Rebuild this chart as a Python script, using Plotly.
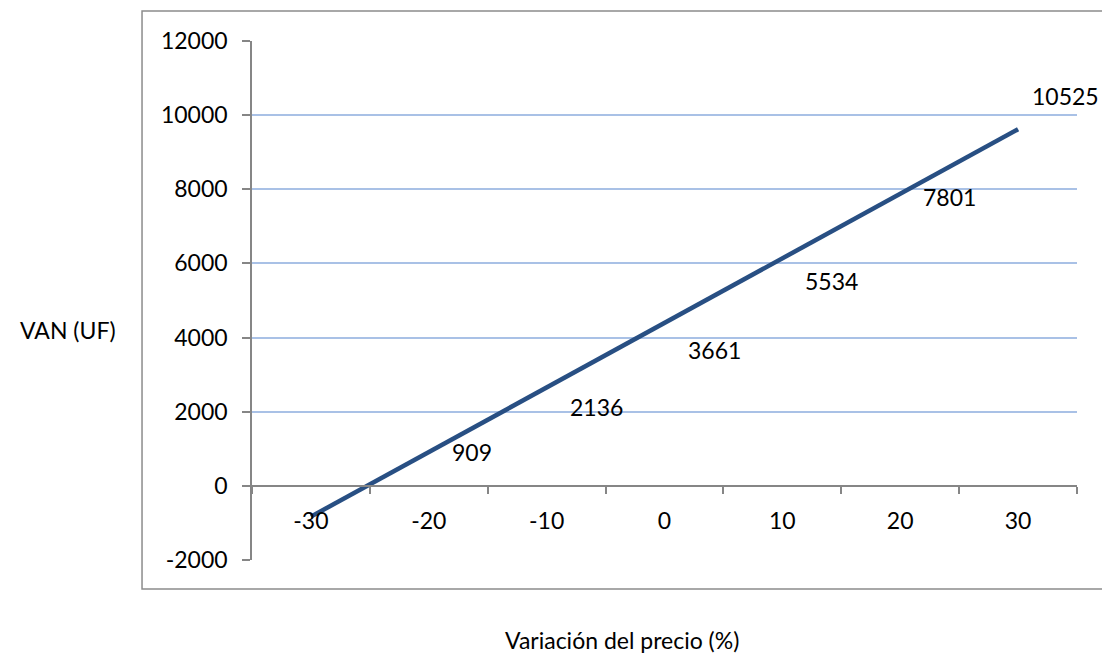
import plotly.graph_objects as go

# Data
categories = ["-30", "-20", "-10", "0", "10", "20", "30"]
line_values = [-830, 910, 2650, 4400, 6140, 7880, 9620]
label_categories = ["-20", "-10", "0", "10", "20", "30"]
label_values = [909, 2136, 3661, 5534, 7801, 10525]
y_ticks = [-2000, 0, 2000, 4000, 6000, 8000, 10000, 12000]

FONT = "Lato"
AXIS_GRAY = "#868686"
GRID = "#a9c1e6"

fig = go.Figure()
fig.add_trace(go.Scatter(
    x=categories, y=line_values, mode="lines",
    line=dict(color="#284f83", width=4.5),
    hoverinfo="skip", showlegend=False,
))

for c, v in zip(label_categories, label_values):
    is_last = c == label_categories[-1]
    fig.add_annotation(
        x=categories.index(c), y=v, xref="x", yref="y", text=str(v),
        showarrow=False, xanchor="left", yanchor="middle",
        xshift=12 if is_last else 21,
        font=dict(family=FONT, size=23, color="#000000"),
    )

fig.add_annotation(
    x=-0.223, y=0.443, xref="paper", yref="paper", text="VAN (UF)",
    showarrow=False, xanchor="center", yanchor="middle",
    font=dict(family=FONT, size=23, color="#000000"),
)
fig.add_annotation(
    x=0.4485, y=-0.154, xref="paper", yref="paper",
    text="Variación del precio (%)",
    showarrow=False, xanchor="center", yanchor="middle",
    font=dict(family=FONT, size=23, color="#000000"),
)

# Outer chart border
fig.add_shape(
    type="rect", xref="paper", yref="paper",
    x0=-0.1333, x1=1.04, y0=-0.0559, y1=1.0578,
    line=dict(color="#8c8c8c", width=1.5), fillcolor="rgba(0,0,0,0)",
    layer="below",
)

fig.update_layout(
    width=1102, height=658,
    margin=dict(l=252, r=25, t=41, b=98),
    paper_bgcolor="white", plot_bgcolor="white",
    font=dict(family=FONT, size=23, color="#000000"),
    xaxis=dict(
        type="category", categoryorder="array", categoryarray=categories,
        range=[-0.5, 6.5], anchor="free", position=2000 / 14000,
        tickson="boundaries", ticks="outside", ticklen=7, tickwidth=1.5,
        tickcolor=AXIS_GRAY, showline=True, linecolor=AXIS_GRAY, linewidth=1.5,
        showgrid=False, zeroline=False, ticklabelstandoff=15,
        tickfont=dict(family=FONT, size=23, color="#000000"),
    ),
    yaxis=dict(
        range=[-2000, 12000], tickvals=y_ticks, ticktext=[str(t) for t in y_ticks],
        ticks="outside", ticklen=8, tickwidth=1.5, tickcolor=AXIS_GRAY,
        showline=True, linecolor=AXIS_GRAY, linewidth=1.5,
        showgrid=True, gridcolor=GRID, gridwidth=1.5, zeroline=False,
        ticklabelstandoff=10,
        tickfont=dict(family=FONT, size=23, color="#000000"),
    ),
)

fig.write_html(
    "out.html",
    config={"displayModeBar": False},
    post_script="document.body.style.margin='0';document.body.style.overflow='hidden';",
)
